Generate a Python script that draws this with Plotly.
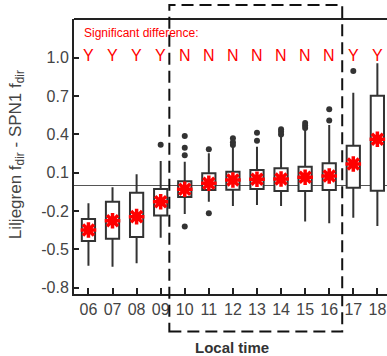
import plotly.graph_objects as go

hours = ["06", "07", "08", "09", "10", "11", "12", "13", "14", "15", "16", "17", "18"]
q1 = [-0.435, -0.417, -0.403, -0.236, -0.090, -0.035, -0.033, -0.027, -0.043, -0.043, -0.035, -0.017, -0.041]
q3 = [-0.262, -0.127, -0.056, -0.027, 0.033, 0.095, 0.108, 0.121, 0.135, 0.147, 0.174, 0.312, 0.703]
lower = [-0.628, -0.636, -0.609, -0.409, -0.223, -0.127, -0.161, -0.153, -0.161, -0.283, -0.296, -0.252, -0.317]
upper = [-0.139, -0.014, 0.088, 0.192, 0.186, 0.252, 0.304, 0.304, 0.382, 0.435, 0.474, 0.727, 0.957]
means = [-0.349, -0.276, -0.244, -0.127, -0.030, 0.017, 0.043, 0.049, 0.051, 0.064, 0.074, 0.168, 0.362]
signif = ["Y", "Y", "Y", "Y", "N", "N", "N", "N", "N", "N", "N", "Y", "Y"]
outlier_hour = ["09", "10", "10", "10", "10", "11", "11", "12", "12", "12", "13", "13",
                "14", "14", "14", "15", "15", "15", "16", "16", "17"]
outlier_val = [0.320, 0.388, 0.296, 0.236, -0.322, 0.284, -0.218, 0.369, 0.339, 0.317, 0.413, 0.351,
               0.44, 0.42, 0.40, 0.49, 0.47, 0.45, 0.597, 0.508, 0.897]
ytick_vals = [-0.8, -0.5, -0.2, 0.1, 0.4, 0.7, 1.0]
ytick_text = ["-0.8", "-0.5", "-0.2", "0.1", "0.4", "0.7", "1.0"]

xs = list(range(len(hours)))
pos = {h: i for i, h in enumerate(hours)}

fig = go.Figure()
fig.add_trace(go.Box(
    x=xs, q1=q1, median=means, q3=q3, lowerfence=lower, upperfence=upper,
    fillcolor="white", line=dict(color="#333333", width=2), width=0.55,
    whiskerwidth=0, boxpoints=False, hoverinfo="skip", showlegend=False,
))
fig.add_trace(go.Scatter(
    x=[pos[h] for h in outlier_hour], y=outlier_val, mode="markers",
    marker=dict(color="#333333", size=6), showlegend=False, hoverinfo="skip",
))
fig.add_trace(go.Scatter(
    x=xs, y=means, mode="markers",
    marker=dict(symbol="asterisk-open", size=13, color="#ff0000",
                line=dict(color="#ff0000", width=3.5)),
    showlegend=False, hoverinfo="skip",
))

font = "Arial, Liberation Sans, sans-serif"
fig.update_layout(
    width=387, height=356,
    margin=dict(l=74, r=0, t=19, b=62),
    plot_bgcolor="white", paper_bgcolor="white",
    font=dict(family=font, color="#444444"),
    xaxis=dict(range=[-0.6, 12.4], tickvals=xs, ticktext=hours, ticks="inside", ticklen=6,
               tickwidth=2, tickcolor="#222222", showline=True, linewidth=2, linecolor="#222222",
               showgrid=False, zeroline=False, tickfont=dict(size=16, color="#444444")),
    yaxis=dict(range=[-0.85, 1.304], tickvals=ytick_vals, ticktext=ytick_text, ticks="inside",
               ticklen=5, tickwidth=2, tickcolor="#222222", showline=True, linewidth=2,
               linecolor="#222222", showgrid=False, zeroline=True, zerolinecolor="#555555",
               zerolinewidth=1, tickfont=dict(size=16, color="#444444")),
)

fig.add_shape(type="line", xref="paper", yref="paper", x0=0, x1=1, y0=1, y1=1,
              line=dict(color="#222222", width=2))
fig.add_shape(type="rect", xref="x", yref="paper", x0=3.36, x1=10.54, y0=-0.136, y1=1.051,
              line=dict(color="#111111", width=2, dash="12px,6px"), layer="above")

fig.add_annotation(xref="paper", yref="paper", x=0.0256, y=0.949, xanchor="left", yanchor="middle",
                   text="Significant difference:", showarrow=False,
                   font=dict(size=12, color="#ff0000", family=font))
for i, s in enumerate(signif):
    fig.add_annotation(xref="x", yref="paper", x=i, y=0.8665, xanchor="center", yanchor="middle",
                       text=s, showarrow=False, font=dict(size=16, color="#ff0000", family=font))

fig.add_annotation(xref="paper", yref="paper", x=-0.182, y=0.505, xanchor="center", yanchor="middle",
                   text="Liljegren f<sub>dir</sub> - SPN1 f<sub>dir</sub>", textangle=-90,
                   showarrow=False, font=dict(size=17, color="#444444", family=font))
fig.add_annotation(xref="paper", yref="paper", x=0.505, y=-0.196, xanchor="center", yanchor="middle",
                   text="<b>Local time</b>", showarrow=False,
                   font=dict(size=15, color="#333333", family=font))

fig.write_html("out.html")
